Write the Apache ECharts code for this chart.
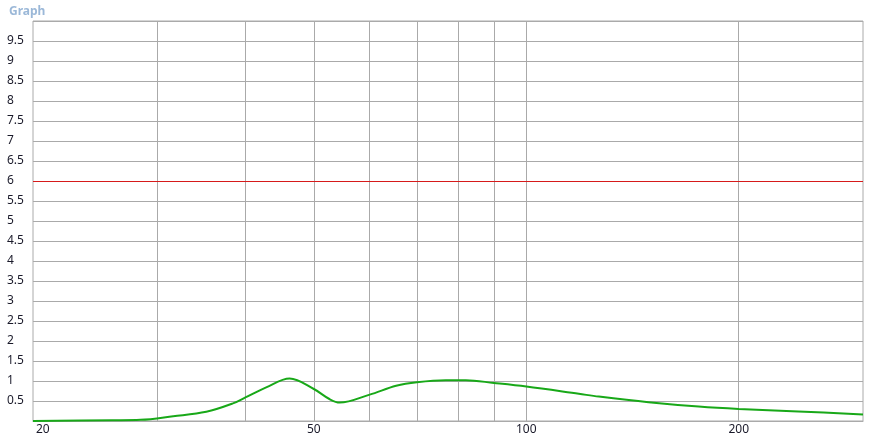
<!DOCTYPE html>
<html>
<head>
<meta charset="utf-8">
<script src="https://cdn.jsdelivr.net/npm/echarts@6/dist/echarts.min.js"></script>
<style>
  html, body { margin: 0; padding: 0; background: #fff; }
  #chart { width: 869px; height: 445px; }
</style>
</head>
<body>
<div id="chart"></div>
<script>
// curve samples (frequency, value)
const freqs  = [20, 25.9, 28.4, 31.6, 35.2, 38.4, 40, 42.8, 46.2, 50, 52.6, 54.4, 60, 65.4, 70, 76.9, 82.1, 90, 100, 118.7, 126.7, 149, 175.5, 200, 242.9, 300];
const values = [0.0, 0.02, 0.03, 0.12, 0.23, 0.44, 0.59, 0.84, 1.06, 0.80, 0.55, 0.46, 0.66, 0.88, 0.97, 1.02, 1.02, 0.95, 0.86, 0.68, 0.61, 0.47, 0.36, 0.30, 0.24, 0.16];
// vertical grid lines and bottom tick labels
const gridFreqs = [30, 40, 50, 60, 70, 80, 90, 100, 200];
const tickFreqs = [20, 50, 100, 200];
const refLevel = 6;

var chart = echarts.init(document.getElementById('chart'));
var font = '"Noto Sans", "DejaVu Sans", sans-serif';

var option = {
  animation: false,
  title: {
    text: 'Graph',
    left: 4, top: 1,
    textStyle: { color: '#9bb8d8', fontSize: 12, fontWeight: 'bold', fontFamily: font }
  },
  grid: {
    left: 33, right: 6, top: 21, bottom: 24,
    show: true, borderColor: '#aaaaaa', borderWidth: 1
  },
  xAxis: {
    type: 'log', logBase: 10, min: 20, max: 300,
    axisLine: { lineStyle: { color: '#aaaaaa' } },
    axisTick: { show: false },
    axisLabel: { show: false },
    splitLine: { show: false },
    minorSplitLine: { show: false }
  },
  yAxis: {
    type: 'value', min: 0, max: 10, interval: 0.5,
    axisLine: { show: false },
    axisTick: { show: false },
    axisLabel: {
      align: 'left', margin: 26, color: '#1a1a2a', fontSize: 12, fontFamily: font,
      showMinLabel: false, showMaxLabel: false
    },
    splitLine: { lineStyle: { color: '#aaaaaa', width: 1 } }
  },
  series: [
    {
      // vertical grid lines
      type: 'line', data: [], silent: true, z: 1,
      markLine: {
        silent: true, symbol: 'none', animation: false,
        lineStyle: { color: '#aaaaaa', width: 1, type: 'solid' },
        label: { show: false },
        data: gridFreqs.map(f => ({ xAxis: f }))
      }
    },
    {
      // x tick labels under the plot
      type: 'line', data: [], silent: true, z: 2,
      markLine: {
        silent: true, symbol: 'none', animation: false,
        lineStyle: { color: 'transparent', width: 0 },
        label: {
          show: true, position: 'start', distance: 3,
          color: '#1a1a2a', fontSize: 12, fontFamily: font,
          formatter: p => String(p.value)
        },
        data: tickFreqs.map((f, i) => i === 0
          ? { xAxis: f, label: { align: 'left', offset: [3, 0] } }
          : { xAxis: f })
      }
    },
    {
      type: 'line', data: [], silent: true, z: 3,
      markLine: {
        silent: true, symbol: 'none', animation: false,
        lineStyle: { color: '#d61a1a', width: 1, type: 'solid' },
        label: { show: false },
        data: [{ yAxis: refLevel }]
      }
    },
    {
      type: 'line', z: 5,
      data: freqs.map((f, i) => [f, values[i]]),
      smooth: 0.35,
      showSymbol: false,
      lineStyle: { color: '#18a818', width: 2 }
    }
  ]
};
chart.setOption(option);
</script>
</body>
</html>
